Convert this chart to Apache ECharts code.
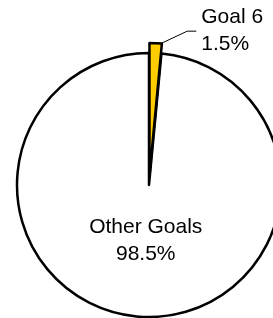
<!DOCTYPE html>
<html>
<head>
<meta charset="utf-8">
<script src="https://cdn.jsdelivr.net/npm/echarts@6/dist/echarts.min.js"></script>
<style>
html,body{margin:0;padding:0;background:#fff;}
#chart{width:273px;height:318px;}
</style>
</head>
<body>
<div id="chart"></div>
<script>
const categories = ['Goal 6', 'Other Goals'];
const values = [1.5, 98.5];
const colors = ['#FFCC00', '#FFFFFF'];

const chart = echarts.init(document.getElementById('chart'), null, {renderer: 'canvas'});
chart.setOption({
  animation: false,
  backgroundColor: '#ffffff',
  series: [{
    type: 'pie',
    center: [149, 185],
    radius: 132,
    startAngle: 90,
    clockwise: true,
    selectedMode: 'multiple',
    selectedOffset: 10,
    avoidLabelOverlap: false,
    itemStyle: {borderColor: '#000', borderWidth: 2.5},
    label: {
      fontFamily: 'Liberation Sans, Arial, sans-serif',
      fontSize: 21,
      lineHeight: 27,
      color: '#000',
      formatter: p => p.name + '\n' + p.value + '%'
    },
    labelLine: {lineStyle: {color: '#000', width: 1}, length: 12, length2: 40},
    labelLayout: function (p) {
      if (p.dataIndex === 0) {
        if (!p.labelLinePoints) return {};
        const s = p.labelLinePoints[0];
        const e = p.labelLinePoints[2];
        return {
          labelLinePoints: [[s[0] + 6, s[1]], [e[0] - 9, e[1]], e]
        };
      }
      return {dy: -13};
    },
    data: categories.map((c, i) => ({
      name: c,
      value: values[i],
      selected: i === 0,
      itemStyle: {color: colors[i]},
      label: {position: i === 0 ? 'outside' : 'inside'},
      labelLine: {show: i === 0}
    }))
  }]
});
</script>
</body>
</html>
